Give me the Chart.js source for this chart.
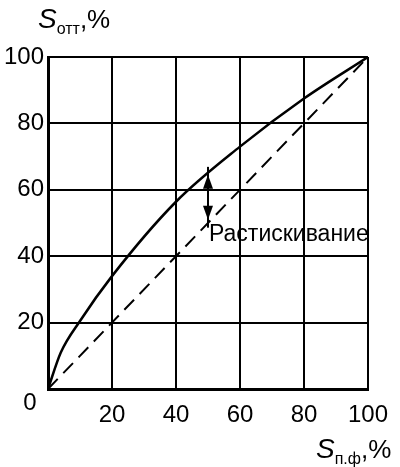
<!DOCTYPE html>
<html>
<head>
<script src="https://cdn.jsdelivr.net/npm/chart.js"></script>
<style>
  body { margin: 0; background: #fff; }
  #wrap { width: 400px; height: 467px; }
</style>
</head>
<body>
<div id="wrap"><canvas id="c"></canvas></div>
<script>
// film dot area vs printed dot area
const filmX   = [0, 4, 10, 20, 40, 60, 80, 100];
const printY  = [0, 11, 20.5, 34, 56.4, 73, 87.5, 100];
const idealX  = [0, 100];
const idealY  = [0, 100];
const ticks   = [0, 20, 40, 60, 80, 100];
const gainAt  = 50;
const gainLabel = 'Растискивание';

const font = 'Arial, "Liberation Sans", sans-serif';

const extras = {
  id: 'extras',
  afterDraw(chart) {
    const { ctx, scales: { x, y } } = chart;
    ctx.save();
    ctx.fillStyle = '#000';
    ctx.strokeStyle = '#000';
    // zero label shared by both axes
    ctx.font = '24px ' + font;
    ctx.textAlign = 'center';
    ctx.textBaseline = 'middle';
    ctx.fillText('0', 30, 403);

    // dot gain arrow
    const ax = x.getPixelForValue(gainAt);
    const y1 = y.getPixelForValue(51), y2 = y.getPixelForValue(64.5);
    ctx.lineWidth = 2;
    ctx.beginPath(); ctx.moveTo(ax, y1 + 8); ctx.lineTo(ax, y2 - 8); ctx.stroke();
    [[y2, 1], [y1, -1]].forEach(([py, d]) => {
      ctx.beginPath();
      ctx.moveTo(ax, py);
      ctx.lineTo(ax - 5, py + d * 14);
      ctx.lineTo(ax + 5, py + d * 14);
      ctx.closePath(); ctx.fill();
    });
    ctx.font = '23px ' + font;
    ctx.textAlign = 'left';
    ctx.fillText(gainLabel, ax + 1, y.getPixelForValue(46.5));

    // axis titles
    const title = (tx, ty, sub) => {
      ctx.textAlign = 'left';
      ctx.textBaseline = 'alphabetic';
      ctx.font = 'italic 28px ' + font;
      ctx.fillText('S', tx, ty);
      let w = ctx.measureText('S').width;
      ctx.font = '16px ' + font;
      ctx.fillText(sub, tx + w, ty + 6);
      w += ctx.measureText(sub).width;
      ctx.font = '26px ' + font;
      ctx.fillText(',%', tx + w, ty);
    };
    title(38, 28, 'отт');
    title(316, 458, 'п.ф');
    ctx.restore();
  }
};

const axis = (fit) => ({
  type: 'linear', min: 0, max: 100,
  afterFit: fit,
  grid: { color: '#000', lineWidth: 2, drawTicks: false },
  border: { color: '#000', width: 3 },
  ticks: {
    stepSize: 20, color: '#000', font: { size: 24, family: font },
    callback: v => v === 0 ? '' : v
  }
});

const xAxis = axis(s => { s.height = 78; });
xAxis.ticks.padding = 12;
xAxis.afterBuildTicks = s => { s.ticks = ticks.map(v => ({ value: v })); };
const yAxis = axis(s => { s.width = 48; });
yAxis.ticks.padding = 4;
yAxis.afterBuildTicks = s => { s.ticks = ticks.map(v => ({ value: v })); };

new Chart(document.getElementById('c'), {
  type: 'scatter',
  data: {
    datasets: [
      {
        data: filmX.map((v, i) => ({ x: v, y: printY[i] })),
        showLine: true, borderColor: '#000', borderWidth: 2.5,
        pointRadius: 0, cubicInterpolationMode: 'monotone'
      },
      {
        data: idealX.map((v, i) => ({ x: v, y: idealY[i] })),
        showLine: true, borderColor: '#000', borderWidth: 2,
        borderDash: [14, 8], pointRadius: 0
      }
    ]
  },
  options: {
    responsive: true, maintainAspectRatio: false, animation: false,
    layout: { padding: { top: 57, right: 18, left: 0, bottom: 0 } },
    plugins: { legend: { display: false }, tooltip: { enabled: false } },
    scales: { x: xAxis, y: yAxis }
  },
  plugins: [extras]
});
</script>
</body>
</html>
